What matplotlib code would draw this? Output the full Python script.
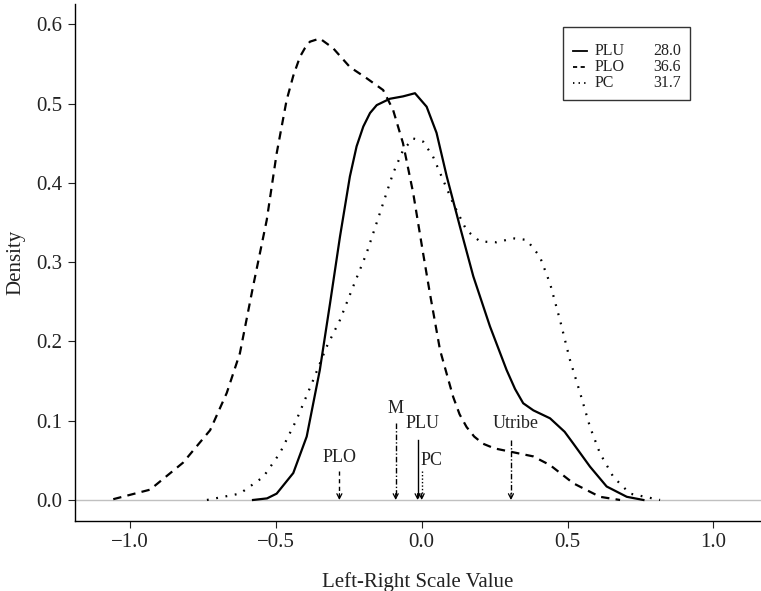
import matplotlib
matplotlib.use("Agg")
import matplotlib.pyplot as plt
from matplotlib.patches import Rectangle

plt.rcParams['font.family'] = ['Liberation Serif', 'DejaVu Serif']
plt.rcParams['lines.scale_dashes'] = False

# density curves
plo_x = [-1.057, -0.931, -0.818, -0.725, -0.668, -0.623, -0.578, -0.531, -0.497, -0.463,
         -0.440, -0.417, -0.400, -0.383, -0.349, -0.304, -0.246, -0.189, -0.132, -0.098,
         -0.064, -0.029, 0.005, 0.028, 0.063, 0.108, 0.130, 0.154, 0.180, 0.210, 0.250,
         0.303, 0.382, 0.440, 0.520, 0.611, 0.680]
plo_y = [0.001, 0.013, 0.047, 0.088, 0.135, 0.185, 0.269, 0.353, 0.437, 0.504,
         0.535, 0.559, 0.570, 0.578, 0.582, 0.570, 0.546, 0.532, 0.517, 0.492,
         0.450, 0.387, 0.311, 0.261, 0.189, 0.130, 0.108, 0.092, 0.080, 0.071, 0.065,
         0.061, 0.055, 0.044, 0.021, 0.004, 0.0]

plu_x = [-0.578, -0.530, -0.497, -0.440, -0.394, -0.349, -0.314, -0.280, -0.246, -0.223,
         -0.200, -0.177, -0.154, -0.109, -0.064, -0.023, 0.017, 0.051, 0.086, 0.131,
         0.177, 0.234, 0.291, 0.320, 0.348, 0.383, 0.440, 0.490, 0.520, 0.577, 0.634,
         0.703, 0.760]
plu_y = [0.0, 0.002, 0.008, 0.034, 0.080, 0.164, 0.248, 0.332, 0.408, 0.446,
         0.471, 0.488, 0.498, 0.506, 0.509, 0.513, 0.496, 0.463, 0.408, 0.345,
         0.282, 0.219, 0.164, 0.140, 0.122, 0.113, 0.103, 0.086, 0.071, 0.042, 0.017,
         0.004, 0.0]

pc_x = [-0.736, -0.623, -0.543, -0.486, -0.429, -0.372, -0.326, -0.280, -0.235, -0.189,
        -0.143, -0.098, -0.064, -0.029, 0.005, 0.039, 0.073, 0.108, 0.154, 0.200,
        0.257, 0.314, 0.360, 0.405, 0.440, 0.474, 0.508, 0.543, 0.577, 0.611,
        0.657, 0.714, 0.817]
pc_y = [0.0, 0.008, 0.029, 0.059, 0.101, 0.151, 0.193, 0.227, 0.269, 0.311,
        0.362, 0.412, 0.441, 0.456, 0.452, 0.433, 0.404, 0.374, 0.340, 0.326,
        0.325, 0.330, 0.328, 0.307, 0.273, 0.227, 0.177, 0.135, 0.092, 0.059,
        0.029, 0.008, 0.0]

# party / voter positions shown as arrows
arrow_names = ["PLO", "M", "PLU", "PC", "Utribe"]
arrow_pos = [-0.282, -0.089, -0.014, 0.0, 0.306]
arrow_top = [0.036, 0.097, 0.076, 0.036, 0.076]
arrow_dash = [(3, 2.5), (4, 1.5, 1, 1.5), None, (1, 1.5), (4, 1.5, 1, 1.5)]
label_x = [-0.282, -0.089, 0.003, 0.035, 0.322]
label_y = [0.054, 0.115, 0.096, 0.050, 0.096]

legend_names = ["PLU", "PLO", "PC"]
legend_vals = ["28.0", "36.6", "31.7"]

fig = plt.figure(figsize=(7.61, 5.91), dpi=100)
ax = fig.add_axes([0.0986, 0.119, 0.9014, 0.8742])

ax.axhline(0, color="#c0c0c0", lw=1, zorder=0)

lw = 1.6
l1, = ax.plot(plu_x, plu_y, color="black", lw=lw, ls="-")
l2, = ax.plot(plo_x, plo_y, color="black", lw=lw)
l2.set_dashes((6, 4.5))
l3, = ax.plot(pc_x, pc_y, color="black", lw=lw)
l3.set_dashes((1.3, 5.5))

for name, x, top, d, tx, ty in zip(arrow_names, arrow_pos, arrow_top, arrow_dash, label_x, label_y):
    sh, = ax.plot([x, x], [top, 0.004], color="black", lw=1)
    if d is not None:
        sh.set_dashes(d)
    ax.annotate("", xy=(x, 0.0), xytext=(x, 0.008),
                arrowprops=dict(arrowstyle="->,head_length=0.35,head_width=0.18",
                                color="black", lw=0.9, shrinkA=0, shrinkB=0))
    ax.text(tx, ty, name, ha="center", va="center", fontsize=13, color="#222222")

# legend drawn by hand so the numbers line up in a column
ax.add_patch(Rectangle((0.711, 0.8142), 0.185, 0.1413, transform=ax.transAxes,
                       fill=False, edgecolor="#333333", lw=1))
rows = [0.909, 0.878, 0.847]
handles = [None, (3, 2.5), (1, 3)]
for d, name, val, ry in zip(handles, legend_names, legend_vals, rows):
    ln, = ax.plot([0.726, 0.746], [ry, ry], transform=ax.transAxes, color="black", lw=1.3)
    if d is not None:
        ln.set_dashes(d)
    ax.text(0.758, ry, name, transform=ax.transAxes, ha="left", va="center", fontsize=11.5,
            color="#222222")
    ax.text(0.843, ry, val, transform=ax.transAxes, ha="left", va="center", fontsize=11.5,
            color="#222222")

ax.set_xlim(-1.188, 1.163)
ax.set_ylim(-0.0261, 0.6255)
ax.set_xticks([-1.0, -0.5, 0.0, 0.5, 1.0])
ax.set_xticklabels(["\u22121.0", "\u22120.5", "0.0", "0.5", "1.0"])
ax.set_yticks([0.0, 0.1, 0.2, 0.3, 0.4, 0.5, 0.6])
ax.set_yticklabels(["0.0", "0.1", "0.2", "0.3", "0.4", "0.5", "0.6"])
ax.tick_params(labelsize=15, length=5, width=0.8, colors="#222222", pad=4)
ax.spines["top"].set_visible(False)
ax.spines["right"].set_visible(False)
ax.spines["left"].set_linewidth(1)
ax.spines["bottom"].set_linewidth(1)

ax.set_xlabel("Left-Right Scale Value", fontsize=15, color="#222222", labelpad=14)
ax.set_ylabel("Density", fontsize=15, color="#222222", labelpad=8)

fig.savefig("out.png", dpi=100)
